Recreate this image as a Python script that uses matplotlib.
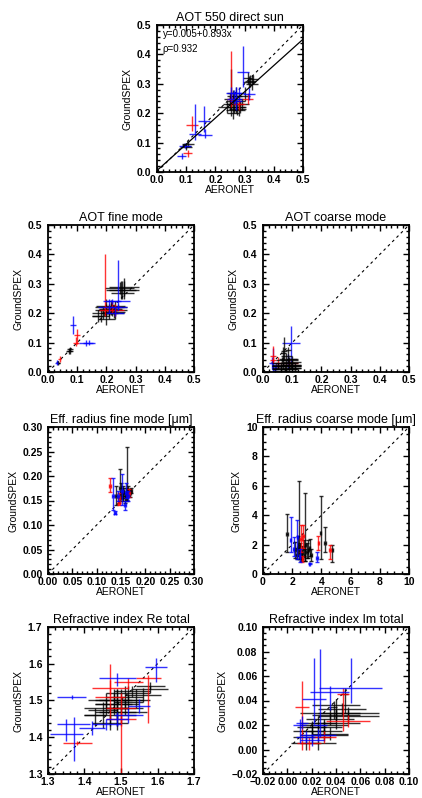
import numpy as np
import matplotlib
matplotlib.use("Agg")
import matplotlib.pyplot as plt
from matplotlib.ticker import MultipleLocator, AutoMinorLocator

plt.rcParams['font.family'] = ['Liberation Sans', 'DejaVu Sans']

# ---- AOT 550 direct sun ----
aot_x   = [0.10, 0.105, 0.25, 0.255, 0.26, 0.27, 0.28, 0.27, 0.29, 0.25, 0.28, 0.32, 0.325, 0.31, 0.265, 0.30,
           0.24, 0.26, 0.27, 0.285, 0.255, 0.33, 0.315, 0.26, 0.275, 0.10,
           0.12, 0.105, 0.255, 0.31, 0.28,
           0.085, 0.095, 0.13, 0.16, 0.165, 0.295, 0.315, 0.27, 0.265, 0.255, 0.28, 0.27]
aot_y   = [0.09, 0.095, 0.23, 0.27, 0.20, 0.22, 0.24, 0.26, 0.23, 0.25, 0.21, 0.31, 0.30, 0.32, 0.23, 0.26,
           0.22, 0.24, 0.25, 0.22, 0.21, 0.315, 0.305, 0.26, 0.215, 0.085,
           0.16, 0.065, 0.25, 0.25, 0.23,
           0.055, 0.09, 0.13, 0.175, 0.125, 0.34, 0.265, 0.27, 0.25, 0.27, 0.27, 0.24]
aot_xe  = [0.015, 0.02, 0.025, 0.015, 0.02, 0.03, 0.02, 0.02, 0.025, 0.02, 0.02, 0.02, 0.02, 0.015, 0.03, 0.02,
           0.03, 0.02, 0.025, 0.02, 0.02, 0.015, 0.02, 0.02, 0.03, 0.02,
           0.02, 0.015, 0.015, 0.02, 0.02,
           0.015, 0.02, 0.02, 0.02, 0.025, 0.02, 0.02, 0.02, 0.025, 0.02, 0.02, 0.02]
aot_ylo = [0.01, 0.01, 0.02, 0.05, 0.02, 0.02, 0.03, 0.03, 0.02, 0.02, 0.02, 0.02, 0.02, 0.02, 0.03, 0.02,
           0.02, 0.02, 0.02, 0.02, 0.02, 0.015, 0.02, 0.02, 0.02, 0.01,
           0.02, 0.015, 0.03, 0.02, 0.02,
           0.01, 0.01, 0.02, 0.04, 0.01, 0.05, 0.02, 0.02, 0.02, 0.02, 0.02, 0.03]
aot_yhi = [0.01, 0.01, 0.03, 0.08, 0.02, 0.02, 0.03, 0.03, 0.02, 0.02, 0.02, 0.02, 0.03, 0.02, 0.04, 0.03,
           0.02, 0.02, 0.02, 0.02, 0.02, 0.015, 0.02, 0.02, 0.02, 0.01,
           0.03, 0.01, 0.16, 0.02, 0.02,
           0.01, 0.01, 0.10, 0.05, 0.02, 0.09, 0.02, 0.02, 0.03, 0.02, 0.02, 0.02]
aot_grp = ['k'] * 26 + ['r'] * 5 + ['b'] * 12

# ---- AOT fine mode ----
fine_x   = [0.035, 0.072, 0.075, 0.25, 0.26, 0.255, 0.20, 0.22, 0.18, 0.21, 0.23, 0.17, 0.20, 0.215,
            0.22, 0.21, 0.23, 0.215, 0.225, 0.26, 0.245, 0.19, 0.20, 0.075, 0.035,
            0.04, 0.10, 0.095, 0.195, 0.23, 0.22,
            0.03, 0.085, 0.13, 0.14, 0.24, 0.21, 0.23, 0.22, 0.24]
fine_y   = [0.032, 0.072, 0.078, 0.28, 0.29, 0.27, 0.22, 0.21, 0.19, 0.20, 0.22, 0.19, 0.18, 0.215,
            0.22, 0.21, 0.20, 0.225, 0.205, 0.28, 0.285, 0.20, 0.21, 0.07, 0.03,
            0.045, 0.125, 0.10, 0.21, 0.21, 0.22,
            0.03, 0.16, 0.10, 0.10, 0.24, 0.22, 0.20, 0.24, 0.22]
fine_xe  = [0.005, 0.01, 0.01, 0.05, 0.05, 0.04, 0.04, 0.05, 0.03, 0.03, 0.04, 0.02, 0.03, 0.04,
            0.04, 0.03, 0.03, 0.05, 0.04, 0.05, 0.05, 0.04, 0.04, 0.01, 0.005,
            0.005, 0.01, 0.01, 0.02, 0.03, 0.03,
            0.005, 0.01, 0.025, 0.02, 0.04, 0.04, 0.03, 0.03, 0.03]
fine_ylo = [0.005, 0.01, 0.008, 0.03, 0.03, 0.02, 0.02, 0.02, 0.02, 0.02, 0.02, 0.02, 0.02, 0.02,
            0.02, 0.02, 0.02, 0.02, 0.02, 0.03, 0.02, 0.02, 0.02, 0.01, 0.005,
            0.01, 0.03, 0.01, 0.02, 0.02, 0.02,
            0.005, 0.03, 0.01, 0.008, 0.03, 0.02, 0.01, 0.01, 0.01]
fine_yhi = [0.005, 0.01, 0.008, 0.03, 0.03, 0.04, 0.03, 0.02, 0.02, 0.02, 0.02, 0.02, 0.02, 0.02,
            0.02, 0.02, 0.02, 0.02, 0.02, 0.03, 0.02, 0.02, 0.02, 0.01, 0.005,
            0.01, 0.02, 0.02, 0.19, 0.02, 0.02,
            0.01, 0.03, 0.01, 0.008, 0.14, 0.03, 0.02, 0.01, 0.01]
fine_grp = ['k'] * 25 + ['r'] * 6 + ['b'] * 9

# ---- AOT coarse mode ----
coarse_x   = [0.072, 0.085, 0.07, 0.09, 0.08, 0.10, 0.06, 0.09, 0.11, 0.075, 0.10, 0.05,
              0.07, 0.08, 0.09, 0.06, 0.10, 0.085, 0.075, 0.065, 0.11, 0.095, 0.08, 0.07,
              0.035, 0.05, 0.09, 0.035,
              0.095, 0.03, 0.035, 0.045, 0.085, 0.04]
coarse_y   = [0.07, 0.075, 0.03, 0.02, 0.015, 0.025, 0.01, 0.04, 0.02, 0.005, 0.045, 0.02,
              0.02, 0.03, 0.01, 0.025, 0.035, 0.045, 0.01, 0.04, 0.015, 0.025, 0.055, 0.065,
              0.055, 0.03, 0.03, 0.04,
              0.10, 0.03, 0.02, 0.02, 0.03, 0.01]
coarse_xe  = [0.01, 0.01, 0.04, 0.04, 0.05, 0.03, 0.03, 0.03, 0.02, 0.04, 0.02, 0.02,
              0.04, 0.04, 0.03, 0.03, 0.03, 0.03, 0.04, 0.02, 0.02, 0.035, 0.02, 0.01,
              0.01, 0.01, 0.03, 0.01,
              0.03, 0.01, 0.005, 0.015, 0.005, 0.01]
coarse_ylo = [0.03, 0.02, 0.01, 0.01, 0.01, 0.01, 0.01, 0.01, 0.01, 0.005, 0.01, 0.01,
              0.01, 0.01, 0.01, 0.01, 0.01, 0.01, 0.01, 0.01, 0.01, 0.01, 0.01, 0.02,
              0.02, 0.02, 0.01, 0.01,
              0.07, 0.02, 0.02, 0.01, 0.02, 0.01]
coarse_yhi = [0.05, 0.01, 0.02, 0.01, 0.01, 0.01, 0.01, 0.01, 0.01, 0.01, 0.01, 0.01,
              0.01, 0.01, 0.01, 0.01, 0.01, 0.01, 0.01, 0.01, 0.01, 0.01, 0.01, 0.02,
              0.035, 0.02, 0.01, 0.01,
              0.055, 0.02, 0.06, 0.01, 0.03, 0.01]
coarse_grp = ['b'] * 0 + ['k'] * 24 + ['r'] * 4 + ['b'] * 6

# ---- Eff. radius fine mode ----
rf_x   = [0.139, 0.147, 0.163, 0.155, 0.158, 0.16, 0.162, 0.165, 0.168, 0.155, 0.15, 0.17,
          0.128, 0.146, 0.166, 0.145,
          0.134, 0.138, 0.143, 0.152, 0.158, 0.160, 0.165]
rf_y   = [0.16, 0.175, 0.17, 0.16, 0.155, 0.165, 0.16, 0.17, 0.165, 0.17, 0.165, 0.17,
          0.18, 0.155, 0.165, 0.145,
          0.16, 0.125, 0.16, 0.17, 0.14, 0.165, 0.16]
rf_xe  = [0.002, 0.002, 0.002, 0.003, 0.003, 0.003, 0.003, 0.003, 0.003, 0.002, 0.002, 0.003,
          0.002, 0.002, 0.002, 0.002,
          0.002, 0.002, 0.002, 0.002, 0.002, 0.002, 0.002]
rf_ylo = [0.02, 0.025, 0.02, 0.01, 0.01, 0.01, 0.008, 0.008, 0.008, 0.01, 0.01, 0.005,
          0.012, 0.01, 0.008, 0.005,
          0.03, 0.003, 0.01, 0.03, 0.01, 0.01, 0.01]
rf_yhi = [0.02, 0.04, 0.09, 0.015, 0.01, 0.01, 0.01, 0.01, 0.008, 0.01, 0.02, 0.005,
          0.015, 0.01, 0.008, 0.005,
          0.035, 0.003, 0.01, 0.035, 0.01, 0.02, 0.01]
rf_grp = ['k'] * 12 + ['r'] * 4 + ['b'] * 7

# ---- Eff. radius coarse mode ----
rc_x   = [1.65, 2.9, 3.95, 4.25, 4.75, 2.2, 2.5, 2.7, 2.8, 3.0, 3.1, 3.3, 2.4, 2.6, 2.3, 2.45, 2.85, 3.2,
          2.6, 2.7, 3.8, 4.6, 2.75,
          1.9, 2.1, 2.35, 3.7, 3.2, 2.5]
rc_y   = [2.7, 2.0, 2.8, 2.1, 1.6, 1.6, 1.5, 1.4, 1.7, 1.5, 1.6, 1.3, 1.8, 1.2, 1.3, 2.0, 1.2, 1.8,
          2.4, 1.0, 2.1, 1.6, 2.6,
          2.3, 1.7, 2.5, 1.1, 0.7, 1.2]
rc_xe  = [0.05] * 29
rc_ylo = [1.2, 1.1, 1.8, 0.6, 0.8, 0.5, 0.5, 0.4, 0.5, 0.4, 0.5, 0.4, 0.6, 0.3, 0.3, 1.0, 0.3, 0.6,
          0.9, 0.2, 0.5, 0.6, 0.8,
          0.8, 0.5, 1.5, 0.3, 0.05, 0.4]
rc_yhi = [1.4, 3.5, 2.5, 1.1, 0.4, 0.6, 0.6, 0.5, 0.6, 0.6, 0.7, 0.4, 0.8, 0.4, 0.5, 4.3, 0.5, 0.6,
          0.9, 0.2, 0.5, 0.4, 0.7,
          1.6, 0.8, 1.2, 0.4, 0.05, 0.5]
rc_grp = ['k'] * 18 + ['r'] * 5 + ['b'] * 6

# ---- Refractive index Re ----
re_x   = [1.58, 1.58, 1.52, 1.48, 1.49, 1.50, 1.46, 1.45, 1.51, 1.47, 1.43, 1.54, 1.53, 1.49,
          1.50, 1.49, 1.48, 1.51, 1.47, 1.52, 1.56, 1.46,
          1.38, 1.575, 1.47, 1.50, 1.47, 1.52, 1.50,
          1.35, 1.365, 1.37, 1.42, 1.595, 1.49, 1.52, 1.49, 1.55, 1.46]
re_y   = [1.53, 1.54, 1.52, 1.50, 1.49, 1.47, 1.48, 1.475, 1.51, 1.44, 1.46, 1.50, 1.525, 1.48,
          1.50, 1.47, 1.49, 1.48, 1.46, 1.495, 1.515, 1.50,
          1.385, 1.56, 1.51, 1.48, 1.535, 1.55, 1.45,
          1.41, 1.51, 1.435, 1.425, 1.59, 1.56, 1.46, 1.45, 1.485, 1.435]
re_xe  = [0.05, 0.04, 0.06, 0.05, 0.06, 0.07, 0.06, 0.04, 0.05, 0.05, 0.03, 0.04, 0.05, 0.03,
          0.06, 0.05, 0.05, 0.05, 0.07, 0.04, 0.05, 0.05,
          0.04, 0.035, 0.04, 0.04, 0.05, 0.04, 0.04,
          0.045, 0.04, 0.045, 0.035, 0.03, 0.05, 0.04, 0.03, 0.03, 0.04]
re_ylo = [0.01, 0.01, 0.02, 0.03, 0.04, 0.03, 0.02, 0.05, 0.03, 0.02, 0.03, 0.02, 0.015, 0.06,
          0.03, 0.04, 0.03, 0.02, 0.03, 0.02, 0.02, 0.02,
          0.005, 0.12, 0.06, 0.19, 0.02, 0.02, 0.02,
          0.02, 0.005, 0.10, 0.02, 0.04, 0.02, 0.02, 0.02, 0.02, 0.015]
re_yhi = [0.01, 0.01, 0.02, 0.03, 0.04, 0.03, 0.02, 0.02, 0.03, 0.02, 0.02, 0.03, 0.015, 0.05,
          0.03, 0.03, 0.03, 0.02, 0.03, 0.02, 0.02, 0.02,
          0.005, 0.01, 0.09, 0.04, 0.02, 0.01, 0.02,
          0.04, 0.005, 0.02, 0.02, 0.025, 0.015, 0.02, 0.02, 0.02, 0.015]
re_grp = ['k'] * 22 + ['r'] * 7 + ['b'] * 10

# ---- Refractive index Im ----
im_x   = [0.045, 0.05, 0.05, 0.04, 0.035, 0.03, 0.025, 0.02, 0.03, 0.015, 0.025, 0.04, 0.02, 0.047, 0.038,
          0.035, 0.04, 0.02, 0.03, 0.025, 0.035,
          0.012, 0.046, 0.05, 0.03, 0.018,
          0.027, 0.022, 0.052, 0.035, 0.01, 0.015, 0.025, 0.012, 0.02]
im_y   = [0.033, 0.03, 0.027, 0.036, 0.025, 0.02, 0.015, 0.01, 0.012, 0.005, 0.005, 0.022, 0.018, 0.045, 0.035,
          0.03, 0.028, 0.015, 0.018, 0.022, 0.013,
          0.035, 0.045, 0.023, 0.01, 0.005,
          0.02, 0.041, 0.05, 0.047, 0.02, 0.01, 0.012, 0.022, 0.008]
im_xe  = [0.02, 0.025, 0.025, 0.02, 0.02, 0.02, 0.02, 0.015, 0.02, 0.012, 0.015, 0.02, 0.012, 0.003, 0.003,
          0.025, 0.02, 0.01, 0.015, 0.015, 0.015,
          0.006, 0.005, 0.018, 0.01, 0.01,
          0.006, 0.01, 0.026, 0.016, 0.005, 0.008, 0.015, 0.005, 0.01]
im_ylo = [0.005, 0.005, 0.005, 0.01, 0.005, 0.005, 0.005, 0.005, 0.005, 0.005, 0.005, 0.005, 0.005, 0.015, 0.01,
          0.005, 0.005, 0.005, 0.005, 0.005, 0.005,
          0.035, 0.03, 0.005, 0.005, 0.005,
          0.01, 0.02, 0.012, 0.015, 0.015, 0.005, 0.005, 0.005, 0.005]
im_yhi = [0.005, 0.005, 0.005, 0.005, 0.005, 0.005, 0.005, 0.005, 0.005, 0.005, 0.005, 0.01, 0.005, 0.005, 0.005,
          0.005, 0.005, 0.005, 0.005, 0.005, 0.005,
          0.021, 0.005, 0.005, 0.005, 0.005,
          0.062, 0.034, 0.025, 0.005, 0.005, 0.005, 0.005, 0.005, 0.005]
im_grp = ['k'] * 21 + ['r'] * 5 + ['b'] * 9

fit_a = 0.005
fit_b = 0.893
fit_rho = 0.932

colors = {'k': 'black', 'r': 'red', 'b': 'blue'}


def panel(ax, x, y, xe, ylo, yhi, grp, lim, major, nminor, title, caps=0, order=('k', 'r', 'b')):
    ax.plot(lim, lim, color='black', lw=0.8, ls=(0, (2.5, 3)))
    for g in order:
        idx = [i for i in range(len(x)) if grp[i] == g]
        if not idx:
            continue
        xs = np.array(x)[idx]
        ys = np.array(y)[idx]
        xer = np.array(xe)[idx]
        yer = np.array([np.array(ylo)[idx], np.array(yhi)[idx]])
        ax.errorbar(xs, ys, xerr=xer, yerr=yer, fmt='none', ecolor=colors[g],
                    elinewidth=1.0, capsize=caps, capthick=1.0, alpha=0.8)
    ax.set_xlim(lim)
    ax.set_ylim(lim)
    ax.xaxis.set_major_locator(MultipleLocator(major))
    ax.yaxis.set_major_locator(MultipleLocator(major))
    ax.xaxis.set_minor_locator(AutoMinorLocator(nminor))
    ax.yaxis.set_minor_locator(AutoMinorLocator(nminor))
    ax.tick_params(which='both', direction='in', top=True, right=True, width=1.0)
    ax.tick_params(which='major', length=4, labelsize=7.5)
    ax.tick_params(axis='x', which='major', pad=2.5)
    ax.tick_params(axis='y', which='major', pad=4)
    ax.tick_params(which='minor', length=2)
    for lab in ax.get_xticklabels() + ax.get_yticklabels():
        lab.set_fontweight('bold')
    for s in ax.spines.values():
        s.set_linewidth(1.3)
    ax.set_title(title, fontsize=9, pad=3)
    ax.set_xlabel('AERONET', fontsize=7.5, labelpad=-0.5)
    ax.set_ylabel('GroundSPEX', fontsize=7.5, labelpad=3)


fig = plt.figure(figsize=(4.22, 7.98), dpi=100)
W = 146 / 422
H = 147 / 798
L1 = 48 / 422
L2 = 263 / 422

ax1 = fig.add_axes([157 / 422, 1 - 172 / 798, W, H])
panel(ax1, aot_x, aot_y, aot_xe, aot_ylo, aot_yhi, aot_grp, [0, 0.5], 0.1, 5, 'AOT 550 direct sun')
xx = np.array([0, 0.5])
ax1.plot(xx, fit_a + fit_b * xx, color='black', lw=0.9)
ax1.text(0.04, 0.97, 'y=%.3f+%.3fx' % (fit_a, fit_b), transform=ax1.transAxes, fontsize=7, va='top')
ax1.text(0.04, 0.87, '\u03c1=%.3f' % fit_rho, transform=ax1.transAxes, fontsize=7, va='top')

ax2 = fig.add_axes([L1, 1 - 372 / 798, W, H])
panel(ax2, fine_x, fine_y, fine_xe, fine_ylo, fine_yhi, fine_grp, [0, 0.5], 0.1, 5, 'AOT fine mode')

ax3 = fig.add_axes([L2, 1 - 372 / 798, W, H])
panel(ax3, coarse_x, coarse_y, coarse_xe, coarse_ylo, coarse_yhi, coarse_grp, [0, 0.5], 0.1, 5, 'AOT coarse mode',
      order=('b', 'r', 'k'))

ax4 = fig.add_axes([L1, 1 - 574 / 798, W, H])
panel(ax4, rf_x, rf_y, rf_xe, rf_ylo, rf_yhi, rf_grp, [0, 0.3], 0.05, 5, 'Eff. radius fine mode [\u03bcm]', caps=1.2)

ax5 = fig.add_axes([L2, 1 - 574 / 798, W, H])
panel(ax5, rc_x, rc_y, rc_xe, rc_ylo, rc_yhi, rc_grp, [0, 10], 2, 4, 'Eff. radius coarse mode [\u03bcm]', caps=1.2)

ax6 = fig.add_axes([L1, 1 - 774 / 798, W, H])
panel(ax6, re_x, re_y, re_xe, re_ylo, re_yhi, re_grp, [1.3, 1.7], 0.1, 5, 'Refractive index Re total')

ax7 = fig.add_axes([L2, 1 - 774 / 798, W, H])
panel(ax7, im_x, im_y, im_xe, im_ylo, im_yhi, im_grp, [-0.02, 0.1], 0.02, 4, 'Refractive index Im total')

fig.savefig('out.png', dpi=100)
